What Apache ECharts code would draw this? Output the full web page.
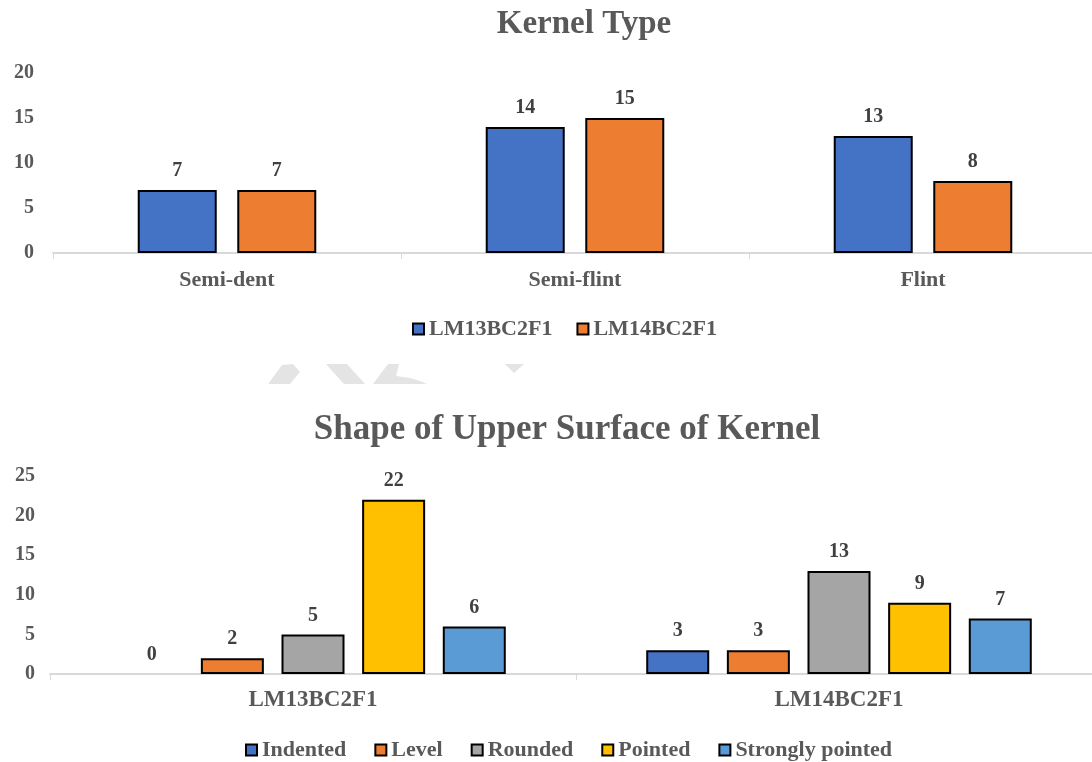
<!DOCTYPE html>
<html>
<head>
<meta charset="utf-8">
<script src="https://cdn.jsdelivr.net/npm/echarts@6/dist/echarts.min.js"></script>
<style>
  html, body { margin: 0; padding: 0; background: #fff; }
  #chart { width: 1092px; height: 762px; }
</style>
</head>
<body>
<div id="chart"></div>
<script>
// Kernel type counts per line
const kernelTypes = ['Semi-dent', 'Semi-flint', 'Flint'];
const lm13Kernel = [7, 14, 13];
const lm14Kernel = [7, 15, 8];

// Upper surface shape counts per line
const lines = ['LM13BC2F1', 'LM14BC2F1'];
const shapeNames = ['Indented', 'Level', 'Rounded', 'Pointed', 'Strongly pointed'];
const indented = [0, 3];
const level = [2, 3];
const rounded = [5, 13];
const pointed = [22, 9];
const stronglyPointed = [6, 7];

const shapeValues = [indented, level, rounded, pointed, stronglyPointed];
const shapeColors = ['#4472C4', '#ED7D31', '#A5A5A5', '#FFC000', '#5B9BD5'];
const kernelColors = ['#4472C4', '#ED7D31'];

const FONT = '"Liberation Serif", "Times New Roman", serif';
const TEXT = '#595959';
const LABEL = '#404040';

function barData(values) {
  // zero-height bars get no outline
  return values.map(v => ({ value: v, itemStyle: { borderWidth: v === 0 ? 0 : 2 } }));
}

const labelStyle = {
  show: true, position: 'top', distance: 9,
  fontFamily: FONT, fontWeight: 'bold', fontSize: 20, color: LABEL
};

const axisLabel = { fontFamily: FONT, fontWeight: 'bold', fontSize: 20, color: TEXT };

const chart = echarts.init(document.getElementById('chart'));

chart.setOption({
  animation: false,
  backgroundColor: '#ffffff',
  title: [
    { text: 'Kernel Type', left: 579, top: 3, textAlign: 'center',
      textStyle: { fontFamily: FONT, fontWeight: 'bold', fontSize: 33, color: TEXT } },
    { text: 'Shape of Upper Surface of Kernel', left: 562, top: 407, textAlign: 'center',
      textStyle: { fontFamily: FONT, fontWeight: 'bold', fontSize: 35, color: TEXT } }
  ],
  legend: [
    { data: ['LM13BC2F1', 'LM14BC2F1'], left: 407, top: 313, itemGap: 24,
      icon: 'rect', itemWidth: 11, itemHeight: 11,
      itemStyle: { borderColor: '#000', borderWidth: 2 },
      textStyle: { fontFamily: FONT, fontWeight: 'bold', fontSize: 22, color: TEXT } },
    { data: shapeNames, left: 240, top: 734, itemGap: 28,
      icon: 'rect', itemWidth: 11, itemHeight: 11,
      itemStyle: { borderColor: '#000', borderWidth: 2 },
      textStyle: { fontFamily: FONT, fontWeight: 'bold', fontSize: 22, color: TEXT } }
  ],
  grid: [
    { left: 53, top: 73, width: 1044, height: 180, outerBoundsMode: 'none', containLabel: false },
    { left: 50, top: 476, width: 1052, height: 198, outerBoundsMode: 'none', containLabel: false }
  ],
  xAxis: [
    { type: 'category', gridIndex: 0, data: kernelTypes,
      axisLine: { lineStyle: { color: '#D9D9D9', width: 2 } },
      axisTick: { show: true, length: 6, lineStyle: { color: '#D9D9D9', width: 1 } },
      axisLabel: { margin: 16, fontSize: 22, fontFamily: FONT, fontWeight: 'bold', color: TEXT } },
    { type: 'category', gridIndex: 1, data: lines,
      axisLine: { lineStyle: { color: '#D9D9D9', width: 2 } },
      axisTick: { show: true, length: 6, lineStyle: { color: '#D9D9D9', width: 1 } },
      axisLabel: { margin: 15, fontSize: 23, fontFamily: FONT, fontWeight: 'bold', color: TEXT } }
  ],
  yAxis: [
    { type: 'value', gridIndex: 0, min: 0, max: 20, interval: 5,
      axisLine: { show: false }, axisTick: { show: false }, splitLine: { show: false },
      axisLabel: Object.assign({ margin: 19 }, axisLabel) },
    { type: 'value', gridIndex: 1, min: 0, max: 25, interval: 5,
      axisLine: { show: false }, axisTick: { show: false }, splitLine: { show: false },
      axisLabel: Object.assign({ margin: 15 }, axisLabel) }
  ],
  series: [
    { name: 'LM13BC2F1', type: 'bar', xAxisIndex: 0, yAxisIndex: 0,
      data: barData(lm13Kernel), barWidth: 79, barGap: '26%',
      itemStyle: { color: kernelColors[0], borderColor: '#000', borderWidth: 2 },
      label: labelStyle },
    { name: 'LM14BC2F1', type: 'bar', xAxisIndex: 0, yAxisIndex: 0,
      data: barData(lm14Kernel), barWidth: 79, barGap: '26%',
      itemStyle: { color: kernelColors[1], borderColor: '#000', borderWidth: 2 },
      label: labelStyle }
  ].concat(shapeNames.map((name, i) => ({
    name: name, type: 'bar', xAxisIndex: 1, yAxisIndex: 1,
    data: barData(shapeValues[i]), barWidth: 63, barGap: '28%',
    itemStyle: { color: shapeColors[i], borderColor: '#000', borderWidth: 2 },
    label: labelStyle
  }))),
  // faint remnants of a watermark between the two charts
  graphic: [
    { type: 'polygon', silent: true, z: -1,
      shape: { points: [[268, 384], [282, 365], [293, 364], [300, 372], [290, 384]] },
      style: { fill: '#E4E4E4' } },
    { type: 'polygon', silent: true, z: -1,
      shape: { points: [[326, 364], [347, 364], [365, 384], [344, 384]] },
      style: { fill: '#E4E4E4' } },
    { type: 'polygon', silent: true, z: -1,
      shape: { points: [[373, 384], [388, 364], [399, 364], [396, 376], [410, 378], [420, 381], [427, 384]] },
      style: { fill: '#E4E4E4' } },
    { type: 'polygon', silent: true, z: -1,
      shape: { points: [[505, 364], [524, 364], [514, 373]] },
      style: { fill: '#E4E4E4' } }
  ]
});
</script>
</body>
</html>
